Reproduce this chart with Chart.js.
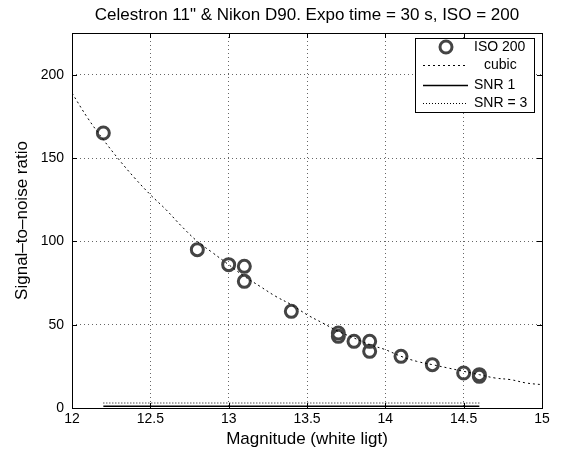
<!DOCTYPE html>
<html><head><meta charset="utf-8">
<script src="https://cdn.jsdelivr.net/npm/chart.js@4"></script>
<style>html,body{margin:0;padding:0;background:#fff}#wrap{width:576px;height:450px}</style>
</head><body><div id="wrap"><canvas id="c" width="576" height="450"></canvas></div>
<script>
const chartTitle = 'Celestron 11" & Nikon D90. Expo time = 30 s, ISO = 200';
const xTitle = 'Magnitude (white ligt)';
const yTitle = 'Signal\u2013to\u2013noise ratio';

const xTicks = [12, 12.5, 13, 13.5, 14, 14.5, 15];
const yTicks = [0, 50, 100, 150, 200];

const isoMag = [12.2, 12.8, 13.0, 13.1, 13.1, 13.4, 13.7, 13.7, 13.8, 13.9, 13.9, 14.1, 14.3, 14.5, 14.6, 14.6];
const isoSNR = [165, 95, 86, 85, 76, 58, 45, 43, 40, 40, 34, 31, 26, 21, 20, 19];

const cubicMag = [12.0, 12.1, 12.2, 12.3, 12.4, 12.5, 12.6, 12.7, 12.8, 12.9, 13.0, 13.1, 13.2, 13.3, 13.4, 13.5, 13.6, 13.7, 13.8, 13.9, 14.0, 14.1, 14.2, 14.3, 14.4, 14.5, 14.6, 14.7, 14.8, 14.9, 15.0];
const cubicSNR = [189, 174, 161, 149, 138, 128, 119, 109, 100, 93, 86, 79, 73, 67, 62, 56, 51, 46, 42, 38, 35, 31, 28, 26, 24, 22, 20, 18, 17, 15, 14];

const snrMag = [12.2, 14.6];
const snr1 = [1, 1];
const snr3 = [3, 3];

const legendLabels = ['ISO 200', 'cubic', 'SNR 1', 'SNR = 3'];

const FONT = '"Liberation Sans", Arial, Helvetica, sans-serif';

function pts(xs, ys) { return xs.map((x, i) => ({ x: x, y: ys[i] })); }

const framePlugin = {
  id: 'frame',
  afterDraw(chart) {
    const ctx = chart.ctx, a = chart.chartArea;
    const xs = chart.scales.x, ys = chart.scales.y;
    ctx.save();
    ctx.strokeStyle = '#000';
    ctx.lineWidth = 1;
    ctx.setLineDash([]);
    ctx.strokeRect(Math.round(a.left) + 0.5, Math.round(a.top) + 0.5, Math.round(a.right - a.left), Math.round(a.bottom - a.top));
    const L = 5;
    ctx.beginPath();
    xTicks.forEach(v => {
      const px = Math.round(xs.getPixelForValue(v)) + 0.5;
      ctx.moveTo(px, a.bottom); ctx.lineTo(px, a.bottom - L);
      ctx.moveTo(px, a.top); ctx.lineTo(px, a.top + L);
    });
    yTicks.forEach(v => {
      const py = Math.round(ys.getPixelForValue(v)) + 0.5;
      ctx.moveTo(a.left, py); ctx.lineTo(a.left + L, py);
      ctx.moveTo(a.right, py); ctx.lineTo(a.right - L, py);
    });
    ctx.stroke();

    // legend
    const bx = 415.5, by = 38.5, bw = 119, bh = 74;
    ctx.fillStyle = '#fff';
    ctx.fillRect(bx, by, bw, bh);
    ctx.strokeRect(bx, by, bw, bh);
    const rowY = [47, 65, 85, 103];
    const ds = chart.data.datasets;
    ctx.font = '14px ' + FONT;
    ctx.textBaseline = 'middle';
    ctx.textAlign = 'left';
    ds.forEach((d, i) => {
      const y = rowY[i];
      ctx.save();
      if (i === 0) {
        ctx.strokeStyle = d.borderColor;
        ctx.lineWidth = d.borderWidth;
        ctx.beginPath();
        ctx.arc(446, y, d.pointRadius, 0, Math.PI * 2);
        ctx.stroke();
      } else {
        ctx.strokeStyle = d.borderColor;
        ctx.lineWidth = d.borderWidth;
        ctx.setLineDash(d.borderDash || []);
        ctx.beginPath();
        ctx.moveTo(423, Math.round(y) + 0.5);
        ctx.lineTo(468, Math.round(y) + 0.5);
        ctx.stroke();
      }
      ctx.restore();
      ctx.fillStyle = '#000';
      ctx.fillText(d.label, i === 1 ? 484 : 474, y);
    });
    ctx.restore();
  }
};

new Chart(document.getElementById('c'), {
  type: 'scatter',
  data: {
    datasets: [
      { label: legendLabels[0], data: pts(isoMag, isoSNR), showLine: false,
        pointStyle: 'circle', pointRadius: 6, pointBorderWidth: 3, borderWidth: 3,
        borderColor: '#444', backgroundColor: 'rgba(0,0,0,0)', pointBackgroundColor: 'rgba(0,0,0,0)', order: 2 },
      { label: legendLabels[1], data: pts(cubicMag, cubicSNR), showLine: true, pointRadius: 0,
        borderColor: '#000', borderWidth: 1, borderDash: [2, 3], tension: 0.4, order: 1 },
      { label: legendLabels[2], data: pts(snrMag, snr1), showLine: true, pointRadius: 0,
        borderColor: '#000', borderWidth: 1.5, order: 1 },
      { label: legendLabels[3], data: pts(snrMag, snr3), showLine: true, pointRadius: 0,
        borderColor: '#000', borderWidth: 1, borderDash: [1, 2], order: 1 }
    ]
  },
  options: {
    responsive: false,
    animation: false,
    events: [],
    layout: { padding: { left: 0, right: 34, top: 0, bottom: 0 } },
    plugins: {
      legend: { display: false },
      tooltip: { enabled: false },
      title: {
        display: true, text: chartTitle, fullSize: false,
        color: '#000', font: { family: FONT, size: 17, weight: 'normal' },
        padding: { top: 5, bottom: 7.6 }
      }
    },
    scales: {
      x: {
        type: 'linear', min: 12, max: 15,
        afterBuildTicks: s => { s.ticks = xTicks.map(v => ({ value: v })); },
        afterFit: s => { s.height = 42; },
        ticks: { color: '#000', font: { family: FONT, size: 14 }, padding: 3, maxRotation: 0,
          callback: v => String(v) },
        grid: { color: '#666', lineWidth: 1, drawTicks: false },
        border: { display: false, dash: [1, 3] },
        title: { display: true, text: xTitle, color: '#000', font: { family: FONT, size: 17 }, padding: { top: 8, bottom: 0 } }
      },
      y: {
        type: 'linear', min: 0, max: 225,
        afterBuildTicks: s => { s.ticks = yTicks.map(v => ({ value: v })); },
        afterFit: s => { s.width = 72; },
        ticks: { color: '#000', font: { family: FONT, size: 14 }, padding: 8,
          callback: v => String(v) },
        grid: { color: '#666', lineWidth: 1, drawTicks: false },
        border: { display: false, dash: [1, 3] },
        title: { display: true, text: yTitle, color: '#000', font: { family: FONT, size: 17 }, padding: { top: 12, bottom: 0 } }
      }
    }
  },
  plugins: [framePlugin]
});
</script>
</body></html>
